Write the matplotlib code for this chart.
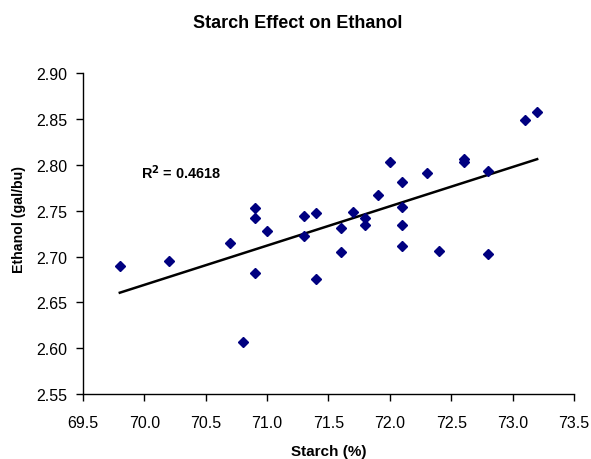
import numpy as np
import matplotlib
matplotlib.use("Agg")
import matplotlib.pyplot as plt

plt.rcParams['font.family'] = ['Liberation Sans', 'DejaVu Sans']

starch = [69.8, 70.2, 70.7, 70.8, 70.9, 70.9, 70.9, 71.0, 71.3, 71.3, 71.4, 71.4,
          71.6, 71.6, 71.7, 71.8, 71.8, 71.9, 72.0, 72.1, 72.1, 72.1, 72.1,
          72.3, 72.4, 72.6, 72.6, 72.8, 72.8, 73.1, 73.2]
ethanol = [2.690, 2.695, 2.715, 2.607, 2.753, 2.742, 2.682, 2.728, 2.744, 2.722, 2.748, 2.676,
           2.731, 2.705, 2.749, 2.742, 2.735, 2.767, 2.803, 2.781, 2.754, 2.735, 2.712,
           2.791, 2.706, 2.806, 2.803, 2.793, 2.703, 2.849, 2.858]
xticks = [69.5, 70.0, 70.5, 71.0, 71.5, 72.0, 72.5, 73.0, 73.5]
yticks = [2.55, 2.60, 2.65, 2.70, 2.75, 2.80, 2.85, 2.90]

x = np.array(starch)
y = np.array(ethanol)
slope, intercept = np.polyfit(x, y, 1)
xs = np.array([x.min(), x.max()])

fig = plt.figure(figsize=(5.91, 4.60), dpi=100)
ax = fig.add_axes([0.1404, 0.1413, 0.8308, 0.697])
ax.plot(xs, slope * xs + intercept, color='black', lw=1.8, zorder=2)
ax.plot(x, y, linestyle='none', marker='D', markersize=4.6, color='#000080', zorder=3)

ax.set_xlim(69.5, 73.5)
ax.set_ylim(2.55, 2.90)
ax.set_xticks(xticks)
ax.set_xticklabels([f"{t:.1f}" for t in xticks])
ax.set_yticks(yticks)
ax.set_yticklabels([f"{t:.2f}" for t in yticks])
for s in ['top', 'right']:
    ax.spines[s].set_visible(False)
for s in ['left', 'bottom']:
    ax.spines[s].set_linewidth(1.0)
ax.tick_params(axis='both', direction='out', length=5, width=1, labelsize=11.5)
ax.tick_params(axis='x', pad=10)
ax.tick_params(axis='y', pad=6)

ax.set_xlabel('Starch (%)', fontsize=11.0, fontweight='bold', va='top')
ax.xaxis.set_label_coords(0.5, -0.156)
ax.set_ylabel('Ethanol (gal/bu)', fontsize=10.2, fontweight='bold')
ax.yaxis.set_label_coords(-0.116, 0.546)
fig.text(0.5034, 0.939, 'Starch Effect on Ethanol', ha='center', va='baseline',
         fontsize=13, fontweight='bold')
ax.text(69.97, 2.793, r'R$^{\mathbf{2}}$ = 0.4618', fontsize=10.4, fontweight='bold',
        ha='left', va='center')

fig.savefig('out.png', dpi=100)
